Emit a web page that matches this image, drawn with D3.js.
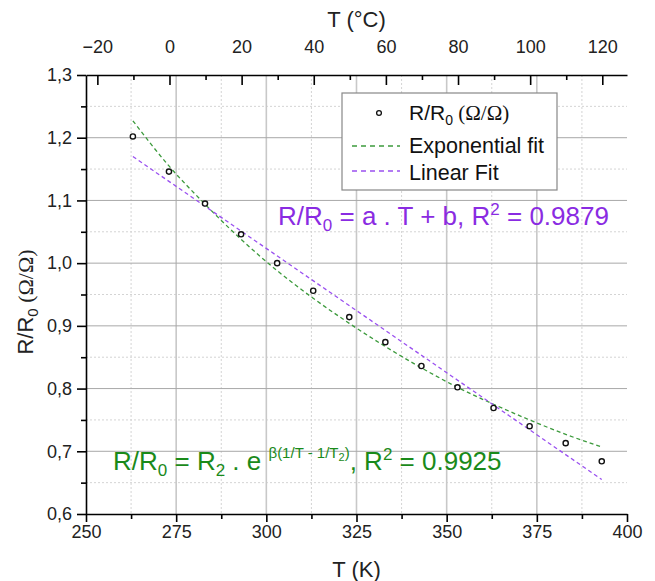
<!DOCTYPE html>
<html>
<head>
<meta charset="utf-8" />
<title>R/R0 vs T</title>
<style>
    body { margin: 0; background: #fff; }
    svg { display: block; font-family: "Liberation Sans", Arial, sans-serif; }
    .axis path, .axis line { stroke: #000; stroke-width: 1.6; }
    .axis text { font-size: 18px; fill: #222; font-family: "Liberation Sans", Arial, sans-serif; }
</style>
</head>
<body>
<div id="chart"></div>
<script src="https://cdn.jsdelivr.net/npm/d3@7/dist/d3.min.js"></script>
<script>
    // measured R/R0, every 10 K
    var temps = [263, 273, 283, 293, 303, 313, 323, 333, 343, 353, 363, 373, 383, 393];
    var ratio = [1.202, 1.146, 1.095, 1.046, 1.000, 0.956, 0.914, 0.874, 0.836, 0.802, 0.769, 0.740, 0.713, 0.684];
    // exponential fit curve at the same temperatures
    var expFit = [1.227, 1.155, 1.094, 1.038, 0.988, 0.944, 0.904, 0.867, 0.833, 0.802, 0.775, 0.750, 0.727, 0.707];
    // linear fit, end points
    var linT = [263, 393];
    var linFit = [1.170, 0.655];

    var xTicks = [250, 275, 300, 325, 350, 375, 400];
    var xMinor = [262.5, 287.5, 312.5, 337.5, 362.5, 387.5];
    var yTicks = [0.6, 0.7, 0.8, 0.9, 1.0, 1.1, 1.2, 1.3];
    var yMinor = [0.65, 0.75, 0.85, 0.95, 1.05, 1.15, 1.25];
    var cTicks = [-20, 0, 20, 40, 60, 80, 100, 120];
    var cMinor = [-10, 10, 30, 50, 70, 90, 110];

    var width = 655, height = 581;
    var pLeft = 86, pRight = 627, pTop = 75, pBottom = 514;
    var green = "#1a8a1a", greenLine = "#3c9a3c", purple = "#8a2be2", purpleLine = "#9a50f0";

    var svg = d3.select("#chart").append("svg")
        .attr("width", width)
        .attr("height", height);

    var x = d3.scaleLinear().domain([250, 400]).range([pLeft, pRight]);
    var xc = d3.scaleLinear().domain([250 - 273.15, 400 - 273.15]).range([pLeft, pRight]);
    var y = d3.scaleLinear().domain([0.6, 1.3]).range([pBottom, pTop]);

    // grid
    var grid = svg.append("g");
    grid.selectAll(".vmin").data(xMinor).join("line")
        .attr("x1", d => x(d)).attr("x2", d => x(d))
        .attr("y1", pTop).attr("y2", pBottom)
        .attr("stroke", "#d4d4d4").attr("stroke-dasharray", "2,2");
    grid.selectAll(".hmin").data(yMinor).join("line")
        .attr("x1", pLeft).attr("x2", pRight)
        .attr("y1", d => y(d)).attr("y2", d => y(d))
        .attr("stroke", "#d4d4d4").attr("stroke-dasharray", "2,2");
    grid.selectAll(".vmaj").data(xTicks.slice(1, -1)).join("line")
        .attr("x1", d => x(d)).attr("x2", d => x(d))
        .attr("y1", pTop).attr("y2", pBottom)
        .attr("stroke", "#c8c8c8").attr("stroke-width", 1.6);
    grid.selectAll(".hmaj").data(yTicks.slice(1, -1)).join("line")
        .attr("x1", pLeft).attr("x2", pRight)
        .attr("y1", d => y(d)).attr("y2", d => y(d))
        .attr("stroke", "#a8a8a8").attr("stroke-width", 1);

    // axes
    var fmtComma = d => d3.format(".1f")(d).replace(".", ",");

    svg.append("g").attr("class", "axis")
        .attr("transform", `translate(0,${pBottom})`)
        .call(d3.axisBottom(x).tickValues(xTicks).tickSize(8).tickSizeOuter(0).tickPadding(3).tickFormat(d3.format("d")));
    svg.append("g").attr("class", "axis")
        .attr("transform", `translate(0,${pBottom})`)
        .call(d3.axisBottom(x).tickValues(xMinor).tickSize(5).tickFormat(""))
        .select(".domain").remove();

    svg.append("g").attr("class", "axis")
        .attr("transform", `translate(${pLeft},0)`)
        .call(d3.axisLeft(y).tickValues(yTicks).tickSize(9).tickSizeOuter(0).tickPadding(5).tickFormat(fmtComma));
    svg.append("g").attr("class", "axis")
        .attr("transform", `translate(${pLeft},0)`)
        .call(d3.axisLeft(y).tickValues(yMinor).tickSize(5).tickFormat(""))
        .select(".domain").remove();

    // top axis in degC, ticks pointing inward
    svg.append("g").attr("class", "axis")
        .attr("transform", `translate(0,${pTop})`)
        .call(d3.axisTop(xc).tickValues(cTicks).tickSize(-10).tickSizeOuter(0).tickPadding(22).tickFormat(d3.format("d")));
    svg.append("g").attr("class", "axis")
        .attr("transform", `translate(0,${pTop})`)
        .call(d3.axisTop(xc).tickValues(cMinor).tickSize(-5).tickFormat(""))
        .select(".domain").remove();

    // axis titles
    svg.append("text")
        .attr("x", (pLeft + pRight) / 2).attr("y", 577)
        .attr("text-anchor", "middle").attr("font-size", 22).attr("fill", "#222")
        .text("T (K)");
    svg.append("text")
        .attr("x", (pLeft + pRight) / 2).attr("y", 27)
        .attr("text-anchor", "middle").attr("font-size", 22).attr("fill", "#222")
        .text("T (°C)");

    var yTitle = svg.append("text")
        .attr("transform", "translate(33,302) rotate(-90)")
        .attr("text-anchor", "middle").attr("font-size", 22).attr("fill", "#222");
    yTitle.append("tspan").text("R/R");
    yTitle.append("tspan").attr("font-size", 15).attr("dy", 5).text("0");
    yTitle.append("tspan").attr("dy", -5).attr("font-family", "Liberation Serif, serif").text(" (Ω/Ω)");

    // fits
    svg.append("path")
        .datum(d3.zip(temps, expFit))
        .attr("fill", "none").attr("stroke", greenLine).attr("stroke-width", 1.3)
        .attr("stroke-dasharray", "4,3")
        .attr("d", d3.line().x(d => x(d[0])).y(d => y(d[1])).curve(d3.curveMonotoneX));
    svg.append("path")
        .datum(d3.zip(linT, linFit))
        .attr("fill", "none").attr("stroke", purpleLine).attr("stroke-width", 1.3)
        .attr("stroke-dasharray", "4,3")
        .attr("d", d3.line().x(d => x(d[0])).y(d => y(d[1])));

    // data points
    svg.append("g").selectAll("circle")
        .data(d3.zip(temps, ratio))
        .join("circle")
        .attr("cx", d => x(d[0])).attr("cy", d => y(d[1]))
        .attr("r", 2.6)
        .attr("fill", "#fff").attr("stroke", "#111").attr("stroke-width", 1.4);

    // legend
    var lg = svg.append("g");
    lg.append("rect")
        .attr("x", 342).attr("y", 93).attr("width", 215).attr("height", 97)
        .attr("fill", "#fff").attr("stroke", "#888").attr("stroke-width", 1.2);
    lg.append("circle").attr("cx", 379).attr("cy", 113).attr("r", 2.4)
        .attr("fill", "#fff").attr("stroke", "#111").attr("stroke-width", 1.3);
    var l1 = lg.append("text").attr("x", 409).attr("y", 120).attr("font-size", 21).attr("fill", "#111");
    l1.append("tspan").text("R/R");
    l1.append("tspan").attr("font-size", 14).attr("dy", 5).text("0");
    l1.append("tspan").attr("dy", -5).attr("font-family", "Liberation Serif, serif").text(" (Ω/Ω)");
    lg.append("line").attr("x1", 352).attr("x2", 400).attr("y1", 146).attr("y2", 146)
        .attr("stroke", greenLine).attr("stroke-width", 1.3).attr("stroke-dasharray", "5,4");
    lg.append("text").attr("x", 409).attr("y", 153).attr("font-size", 21.5).attr("fill", "#111").text("Exponential fit");
    lg.append("line").attr("x1", 352).attr("x2", 400).attr("y1", 171).attr("y2", 171)
        .attr("stroke", purpleLine).attr("stroke-width", 1.3).attr("stroke-dasharray", "5,4");
    lg.append("text").attr("x", 409).attr("y", 180).attr("font-size", 21.5).attr("fill", "#111").text("Linear Fit");

    // annotations
    var ann1 = svg.append("text").attr("x", 278).attr("y", 225).attr("font-size", 26).attr("fill", purple);
    ann1.append("tspan").text("R/R");
    ann1.append("tspan").attr("font-size", 17).attr("dy", 6).text("0");
    ann1.append("tspan").attr("dy", -6).text(" = a . T + b, R");
    ann1.append("tspan").attr("font-size", 17).attr("dy", -10).text("2");
    ann1.append("tspan").attr("dy", 10).text(" = 0.9879");

    var ann2 = svg.append("text").attr("x", 113).attr("y", 470).attr("font-size", 26).attr("fill", green);
    ann2.append("tspan").text("R/R");
    ann2.append("tspan").attr("font-size", 17).attr("dy", 6).text("0");
    ann2.append("tspan").attr("dy", -6).text(" = R");
    ann2.append("tspan").attr("font-size", 17).attr("dy", 6).text("2");
    ann2.append("tspan").attr("dy", -6).text(" . e ");
    ann2.append("tspan").attr("font-size", 15).attr("dy", -12).text("β(1/T - 1/T");
    ann2.append("tspan").attr("font-size", 11).attr("dy", 3).text("2");
    ann2.append("tspan").attr("font-size", 15).attr("dy", -3).text(")");
    ann2.append("tspan").attr("dy", 12).text(", R");
    ann2.append("tspan").attr("font-size", 17).attr("dy", -10).text("2");
    ann2.append("tspan").attr("dy", 10).text(" = 0.9925");
</script>
</body>
</html>
